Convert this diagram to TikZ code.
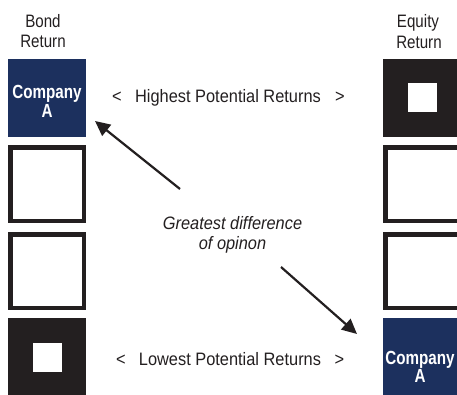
\documentclass[tikz,border=0pt]{standalone}
\usepackage{fontspec}
\setmainfont[FakeStretch=0.91]{Liberation Sans}
\newfontfamily\headfont[FakeStretch=0.84]{Liberation Sans}
\newfontfamily\compfont[FakeStretch=0.8]{Liberation Sans}
\usetikzlibrary{arrows.meta}
\definecolor{navy}{HTML}{1C305E}
\definecolor{ink}{HTML}{231F20}
\begin{document}
\begin{tikzpicture}[x=1pt,y=-1pt,
  navybox/.style={fill=navy,draw=none,minimum width=78pt,minimum height=78pt,inner sep=0pt},
  darkbox/.style={fill=ink,draw=none,minimum width=78pt,minimum height=78pt,inner sep=0pt},
  openbox/.style={draw=ink,line width=4.5pt,fill=white,minimum width=73.5pt,minimum height=73.5pt,inner sep=0pt},
  hole/.style={fill=white,draw=none,minimum width=29pt,minimum height=29pt,inner sep=0pt},
  txt/.style={text=ink,font=\fontsize{18}{20}\selectfont,inner sep=0pt,anchor=base},
  head/.style={text=ink,font=\headfont\fontsize{18}{20}\selectfont,inner sep=0pt,anchor=base},
  comp/.style={text=white,font=\compfont\bfseries\fontsize{19}{20}\selectfont,inner sep=0pt,anchor=base},
  note/.style={text=ink,font=\itshape\fontsize{18}{20}\selectfont,inner sep=0pt,anchor=base},
  pointer/.style={draw=ink,line width=2.2pt,-{Triangle[length=15pt,width=14pt]}}]
\useasboundingbox (0,0) rectangle (457,394);
\clip (0,0) rectangle (457,394);
% left column
\node[navybox] (l1) at (47,98) {};
\node[openbox] (l2) at (47,184) {};
\node[openbox] (l3) at (47,271) {};
\node[darkbox] (l4) at (47,357) {};
\node[hole] (l4h) at (47,357.5) {};
% right column
\node[darkbox] (r1) at (422,98) {};
\node[hole] (r1h) at (422.5,97.5) {};
\node[openbox] (r2) at (422,184) {};
\node[openbox] (r3) at (422,271) {};
\node[navybox] (r4) at (422,357) {};
% headers
\node[head] (bond) at (43,27) {Bond};
\node[head] (bondret) at (43,47) {Return};
\node[head] (equity) at (418,27) {Equity};
\node[head] (equityret) at (419,48) {Return};
% company labels
\node[comp] (ca1) at (47,98) {Company};
\node[comp] (ca2) at (47,117.5) {A};
\node[comp] (cb1) at (420,364) {Company};
\node[comp] (cb2) at (420,382) {A};
% row labels
\node[txt] (hl) at (117,102) {<};
\node[txt] (hm) at (228,102) {Highest Potential Returns};
\node[txt] (hr) at (340,102) {>};
\node[txt] (ll) at (121,365) {<};
\node[txt] (lm) at (230,365) {Lowest Potential Returns};
\node[txt] (lr) at (339.5,365) {>};
% note
\node[note] (n1) at (232.5,229) {Greatest difference};
\node[note] (n2) at (232.5,249) {of opinon};
% arrows
\coordinate (a1s) at (180,189);
\coordinate (a1e) at (95,121);
\coordinate (a2s) at (281,267);
\coordinate (a2e) at (357,334);
\draw[pointer] (a1s) -- (a1e);
\draw[pointer] (a2s) -- (a2e);
\end{tikzpicture}
\end{document}
